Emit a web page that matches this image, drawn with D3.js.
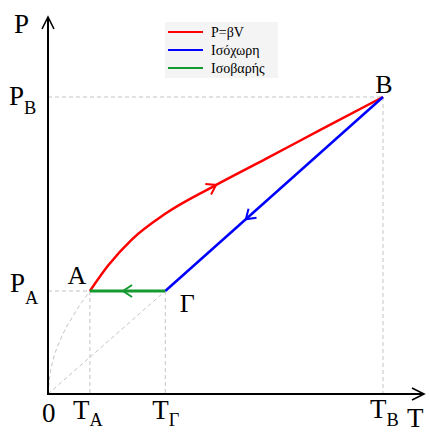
<!DOCTYPE html>
<html>
<head>
<meta charset="utf-8">
<script src="https://cdn.jsdelivr.net/npm/d3@7"></script>
<style>
  body { margin: 0; background: #fff; }
</style>
</head>
<body>
<svg id="chart"></svg>
<script>
// State points (T, P) in arbitrary units
const pointNames = ["A", "Γ", "B"];
const pointT = [1.25, 3.5, 10];
const pointP = [1.04, 1.04, 3];

// Red curve P = βV
const redT = [1.25, 1.8, 2.5, 3.5, 4.9, 6.5, 8.2, 10];
const redP = [1.04, 1.30, 1.56, 1.82, 2.09, 2.375, 2.68, 3.0];

// Grey dashed continuation of the curve down to the origin
const greyT = [0, 0.05, 0.15, 0.36, 0.75, 1.25];
const greyP = [0, 0.17, 0.34, 0.54, 0.79, 1.04];

const legendLabels = ["P=βV", "Ισόχωρη", "Ισοβαρής"];
const legendColors = ["#ff0000", "#0000ff", "#149a30"];

const serif = "Liberation Serif";
const width = 430, height = 432;
const svg = d3.select("#chart").attr("width", width).attr("height", height);

const x = d3.scaleLinear().domain([0, 10]).range([48, 383]);
const y = d3.scaleLinear().domain([0, 3]).range([394, 97]);

const line = d3.line().x(d => x(d[0])).y(d => y(d[1]));
const curve = d3.line().x(d => x(d[0])).y(d => y(d[1])).curve(d3.curveMonotoneX);

const [A, G, B] = pointT.map((t, i) => [t, pointP[i]]);

// dashed guide lines
const guides = [
  [[0, A[1]], A], [A, [A[0], 0]],
  [G, [G[0], 0]], [[0, 0], G],
  [[0, B[1]], B], [B, [B[0], 0]]
];
svg.append("g").selectAll("path")
  .data(guides)
  .enter().append("path")
  .attr("d", line)
  .attr("fill", "none")
  .attr("stroke", "#c4c4c4")
  .attr("stroke-width", 1)
  .attr("stroke-dasharray", "4,3");

svg.append("path")
  .attr("d", curve(greyT.map((t, i) => [t, greyP[i]])))
  .attr("fill", "none")
  .attr("stroke", "#c4c4c4")
  .attr("stroke-width", 1)
  .attr("stroke-dasharray", "4,3");

// axes with open arrow heads
const axisG = svg.append("g").attr("stroke", "#000").attr("fill", "none");
axisG.append("line").attr("x1", x(0)).attr("y1", y(0)).attr("x2", x(0)).attr("y2", 17).attr("stroke-width", 2);
axisG.append("path").attr("d", `M${x(0) - 6},${29} L${x(0)},${17} L${x(0) + 6},${29}`).attr("stroke-width", 1.6);
axisG.append("line").attr("x1", x(0) - 1).attr("y1", y(0)).attr("x2", 424).attr("y2", y(0)).attr("stroke-width", 2);
axisG.append("path").attr("d", `M${412},${y(0) - 6} L${424},${y(0)} L${412},${y(0) + 6}`).attr("stroke-width", 1.6);

// process paths
const redPath = svg.append("path")
  .attr("d", curve(redT.map((t, i) => [t, redP[i]])))
  .attr("fill", "none").attr("stroke", legendColors[0]).attr("stroke-width", 2.5);
const bluePath = svg.append("path")
  .attr("d", line([B, G]))
  .attr("fill", "none").attr("stroke", legendColors[1]).attr("stroke-width", 2.5);
const greenPath = svg.append("path")
  .attr("d", line([G, A]))
  .attr("fill", "none").attr("stroke", legendColors[2]).attr("stroke-width", 3);

// direction chevrons placed along each path
function chevron(path, frac, color) {
  const node = path.node();
  const L = node.getTotalLength();
  const p = node.getPointAtLength(L * frac);
  const q = node.getPointAtLength(L * frac - 2);
  const ang = Math.atan2(p.y - q.y, p.x - q.x) * 180 / Math.PI;
  svg.append("path")
    .attr("d", "M-9,-6 L0,0 L-9,6")
    .attr("transform", `translate(${p.x},${p.y}) rotate(${ang})`)
    .attr("fill", "none").attr("stroke", color).attr("stroke-width", 2);
}
chevron(redPath, 0.47, legendColors[0]);
chevron(bluePath, 0.63, legendColors[1]);
chevron(greenPath, 0.56, legendColors[2]);

// point labels
const lbl = (xp, yp, s) => svg.append("text").attr("x", xp).attr("y", yp)
  .attr("text-anchor", "middle").attr("font-size", 26).attr("font-family", serif).text(s);
lbl(x(A[0]) - 13, 284, pointNames[0]);
lbl(x(G[0]) + 22, 312, pointNames[1]);
lbl(x(B[0]) + 1, 93, pointNames[2]);

// axis labels with subscripts
function sub(xp, yp, main, s, size, dy) {
  const t = svg.append("text").attr("x", xp).attr("y", yp).attr("font-size", size)
    .attr("font-family", serif);
  t.append("tspan").text(main);
  if (s) t.append("tspan").attr("font-size", size * 0.68).attr("dy", dy).text(s);
}
sub(14, 33, "P", "", 27, 0);
sub(9, 105, "P", "B", 27, 9);
sub(10, 292, "P", "A", 27, 12);
sub(x(0) - 6, 422, "0", "", 27, 0);
sub(x(A[0]) - 17, 419, "T", "A", 27, 7);
sub(x(G[0]) - 13, 419, "T", "Γ", 27, 7);
sub(x(B[0]) - 13, 418, "T", "B", 27, 8);
sub(407, 427, "T", "", 27, 0);

// legend
const lg = svg.append("g");
lg.append("rect").attr("x", 165).attr("y", 22).attr("width", 113).attr("height", 56).attr("fill", "#f4f4f4");
legendLabels.forEach((lab, i) => {
  const yy = 32 + i * 18;
  lg.append("line").attr("x1", 168).attr("x2", 203).attr("y1", yy).attr("y2", yy)
    .attr("stroke", legendColors[i]).attr("stroke-width", 2.2);
  lg.append("text").attr("x", 211).attr("y", yy + 5).attr("font-size", 14)
    .attr("font-family", serif).text(lab);
});
</script>
</body>
</html>
